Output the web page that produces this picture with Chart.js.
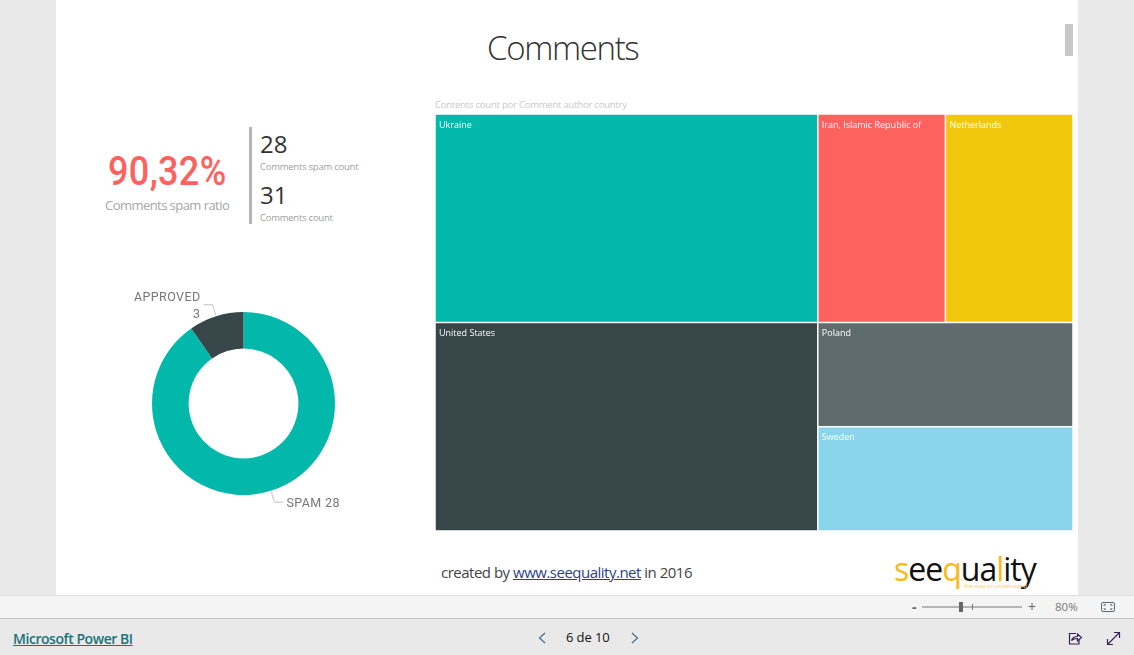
<!DOCTYPE html>
<html>
<head>
<meta charset="utf-8">
<title>Comments</title>
<script src="https://cdn.jsdelivr.net/npm/chart.js@4"></script>
<style>
  html, body { margin: 0; padding: 0; width: 1134px; height: 655px; overflow: hidden; background: #e9e9e9; font-family: "Open Sans", sans-serif; }
  #page { position: absolute; left: 56px; top: 0; width: 1022px; height: 595px; background: #fff; }
  .t { position: absolute; white-space: nowrap; line-height: 1; }
  canvas { position: absolute; }
  #thumb { position: absolute; left: 1065px; top: 24px; width: 8px; height: 32px; background: #c8c8c8; }
  #strip { position: absolute; left: 0; top: 595px; width: 1134px; height: 22px; background: #f4f4f4; border-top: 1px solid #e0e0e0; border-bottom: 1px solid #c6c6c6; }
  #kpiline { position: absolute; left: 249px; top: 127px; width: 3px; height: 97px; background: #b4b4b4; }
  svg { position: absolute; }
</style>
</head>
<body>
<div id="page"></div>
<div id="thumb"></div>

<div class="t" style="left:487px;top:31px;font-size:33px;font-weight:300;color:#333;letter-spacing:-1.35px">Comments</div>

<div class="t" style="left:108px;top:152px;font-family:Roboto;font-size:40px;font-weight:500;color:#fd625e;transform:scaleX(.9);transform-origin:left top;letter-spacing:.4px">90,32%</div>
<div class="t" style="left:105px;top:199px;font-size:13px;color:#a6a6a6;letter-spacing:-.55px">Comments spam ratio</div>
<div id="kpiline"></div>
<div class="t" style="left:260px;top:132px;font-size:24px;color:#333">28</div>
<div class="t" style="left:260px;top:162px;font-size:9.5px;color:#a0a0a0;letter-spacing:-.25px">Comments spam count</div>
<div class="t" style="left:260px;top:183px;font-size:24px;color:#333">31</div>
<div class="t" style="left:260px;top:213px;font-size:9.5px;color:#a0a0a0;letter-spacing:-.25px">Comments count</div>

<canvas id="donut" width="261" height="251" style="left:113px;top:278px"></canvas>

<div class="t" style="left:435px;top:100px;font-size:9.5px;color:#c8c8c8;letter-spacing:-.22px">Contents count por Comment author country</div>
<canvas id="tree" width="638" height="417" style="left:435px;top:114px"></canvas>

<div class="t" style="left:441px;top:565px;font-size:15px;color:#444;letter-spacing:-.5px">created by <span style="color:#2b3f8c;text-decoration:underline">www.seequality.net</span> in 2016</div>

<div class="t" style="left:894px;top:553px;font-size:32px;color:#111;letter-spacing:-1px"><span style="color:#fdb913">s</span>ee<span style="color:#fdb913">q</span>ua<span style="color:#fdb913">l</span>ity</div>
<div class="t" style="left:964px;top:583px;font-size:6px;color:#fdc94a">the way to understand</div>

<div id="strip"></div>
<div class="t" style="left:912px;top:600px;font-size:14px;color:#666;font-weight:700">-</div>
<svg style="left:920px;top:600px" width="105" height="14">
  <line x1="2" y1="7" x2="102" y2="7" stroke="#777"/>
  <rect x="39" y="2" width="4" height="10" fill="#666"/>
  <line x1="52.5" y1="4" x2="52.5" y2="10" stroke="#777"/>
</svg>
<div class="t" style="left:1028px;top:600px;font-size:14px;color:#666">+</div>
<div class="t" style="left:1055px;top:601px;font-size:11.5px;color:#777">80%</div>
<svg style="left:1100px;top:601px" width="16" height="12" fill="none" stroke="#5a6a70">
  <rect x="1.5" y="1.5" width="13" height="9" rx="1.5"/>
  <path d="M4 5V3.8H6M12 5V3.8H10M4 7V8.2H6M12 7V8.2H10"/>
</svg>

<div class="t" style="left:13px;top:632px;font-size:14px;color:#19747c;text-decoration:underline;font-weight:600;letter-spacing:-.45px">Microsoft Power BI</div>
<svg style="left:536px;top:631px" width="12" height="14" fill="none" stroke="#3f6f8c" stroke-width="1.2"><path d="M9 2L3.5 7L9 12"/></svg>
<div class="t" style="left:566px;top:631px;font-size:13px;color:#111;font-weight:500;letter-spacing:-.1px">6 de 10</div>
<svg style="left:629px;top:631px" width="12" height="14" fill="none" stroke="#3f6f8c" stroke-width="1.2"><path d="M3 2L8.5 7L3 12"/></svg>
<svg style="left:1067px;top:631px" width="16" height="15" fill="none" stroke="#3a1f57" stroke-width="1.2">
  <path d="M9 2.5H2.5V13H12V9"/>
  <path d="M4.5 9.5C5.5 6.5 8 5.5 10.5 5.5V3L14.5 6.5L10.5 10V7.5C8 7.5 6 8 4.5 9.5Z"/>
</svg>
<svg style="left:1106px;top:631px" width="15" height="15" fill="none" stroke="#3a1f57" stroke-width="1.2">
  <path d="M1.5 13.5L13.5 1.5M8 1.5H13.5V7M1.5 8V13.5H7"/>
</svg>

<script>
// donut
const statusLabels = ['SPAM', 'APPROVED'];
const statusValues = [28, 3];
const statusColors = ['#01b8aa', '#374649'];

// treemap
const countries = ['Ukraine', 'United States', 'Iran, Islamic Republic of', 'Netherlands', 'Poland', 'Sweden'];
const countryCounts = [3, 3, 1, 1, 1, 1];
const countryColors = ['#01b8aa', '#374649', '#fd625e', '#f2c80f', '#5f6b6d', '#8ad4eb'];
// how the cells nest: row = side by side, col = stacked, numbers index the arrays above
const cellTree = { row: [{ col: [0, 1] }, { col: [{ row: [2, 3] }, { col: [4, 5] }] }] };

const labelFont = '12.5px Roboto';

// leader lines and labels of the donut
const donutLabels = {
  id: 'donutLabels',
  afterDatasetsDraw(chart) {
    const c = chart.ctx;
    chart.getDatasetMeta(0).data.forEach((arc, i) => {
      const p = arc.getProps(['x', 'y', 'startAngle', 'endAngle', 'outerRadius'], true);
      const a = (p.startAngle + p.endAngle) / 2;
      const left = Math.cos(a) < 0;
      const px = r => p.x + Math.cos(a) * r;
      const py = r => p.y + Math.sin(a) * r;
      const elbowX = px(p.outerRadius + 12);
      const elbowY = py(p.outerRadius + 12);
      const endX = elbowX + (left ? -9 : 9);
      c.save();
      c.strokeStyle = '#c4c4c4';
      c.beginPath();
      c.moveTo(px(p.outerRadius + 1), py(p.outerRadius + 1));
      c.lineTo(elbowX, elbowY);
      c.lineTo(endX, elbowY);
      c.stroke();
      c.fillStyle = '#777';
      c.font = labelFont;
      c.letterSpacing = '0.4px';
      c.textBaseline = 'middle';
      if (left) {
        c.textAlign = 'right';
        c.fillText(statusLabels[i], endX - 3, elbowY - 7);
        c.fillText(statusValues[i], endX - 3, elbowY + 10);
      } else {
        c.textAlign = 'left';
        c.fillText(statusLabels[i] + ' ' + statusValues[i], endX + 3, elbowY + 2);
      }
      c.restore();
    });
  }
};

new Chart(document.getElementById('donut'), {
  type: 'doughnut',
  data: {
    labels: statusLabels,
    datasets: [{ data: statusValues, backgroundColor: statusColors, borderWidth: 0 }]
  },
  options: {
    responsive: false,
    animation: false,
    radius: 91.5,
    cutout: '60%',
    plugins: { legend: { display: false }, tooltip: { enabled: false } }
  },
  plugins: [donutLabels]
});

function weight(node) {
  if (typeof node === 'number') return countryCounts[node];
  return (node.row || node.col).reduce((s, n) => s + weight(n), 0);
}

// walks cellTree and gives every cell its share of the box, in count units
function place(node, x0, x1, y0, y1, out) {
  if (typeof node === 'number') {
    out[node] = { x0, x1, y0, y1 };
    return out;
  }
  const total = weight(node);
  let done = 0;
  (node.row || node.col).forEach(n => {
    const a = done / total;
    const b = (done + weight(n)) / total;
    if (node.row) place(n, x0 + (x1 - x0) * a, x0 + (x1 - x0) * b, y0, y1, out);
    else place(n, x0, x1, y0 + (y1 - y0) * a, y0 + (y1 - y0) * b, out);
    done += weight(n);
  });
  return out;
}

// treemap cells as Chart.js bar elements placed through the linear scales
class TreemapController extends Chart.DatasetController {
  update(mode) {
    this.updateElements(this._cachedMeta.data, 0, this._cachedMeta.data.length, mode);
  }
  updateElements(rects, start, count, mode) {
    const xs = this._cachedMeta.xScale;
    const ys = this._cachedMeta.yScale;
    const cells = this.getDataset().data;
    for (let i = start; i < start + count; i++) {
      const d = cells[i];
      const left = xs.getPixelForValue(d.x0);
      const right = xs.getPixelForValue(d.x1);
      const top = ys.getPixelForValue(d.y0);
      const bottom = ys.getPixelForValue(d.y1);
      this.updateElement(rects[i], i, {
        x: (left + right) / 2,
        y: top,
        base: bottom,
        width: right - left,
        height: bottom - top,
        horizontal: false,
        borderSkipped: {},
        enableBorderRadius: false,
        inflateAmount: 0,
        options: this.resolveDataElementOptions(i, mode)
      }, mode);
    }
  }
  getMinMax() {
    return { min: 0, max: 1 };
  }
  draw() {
    const c = this.chart.ctx;
    this._cachedMeta.data.forEach(r => r.draw(c, this.chart.chartArea));
  }
}
TreemapController.id = 'treemap';
TreemapController.defaults = { dataElementType: 'bar', parsing: false };
Chart.register(TreemapController);

const cellLabels = {
  id: 'cellLabels',
  afterDatasetsDraw(chart) {
    const c = chart.ctx;
    c.save();
    c.fillStyle = '#fff';
    c.font = '9px "Open Sans"';
    c.textBaseline = 'middle';
    chart.getDatasetMeta(0).data.forEach((r, i) => {
      c.fillText(countries[i], r.x - r.width / 2 + 4, r.y + 11);
    });
    c.restore();
  }
};

const totalCount = weight(cellTree);
const cells = place(cellTree, 0, totalCount, 0, totalCount, []);

new Chart(document.getElementById('tree'), {
  type: 'treemap',
  data: {
    labels: countries,
    datasets: [{
      data: cells,
      backgroundColor: countryColors,
      borderColor: '#fff',
      borderWidth: 0.75
    }]
  },
  options: {
    responsive: false,
    animation: false,
    scales: {
      x: { type: 'linear', display: false, min: 0, max: totalCount },
      y: { type: 'linear', display: false, min: 0, max: totalCount, reverse: true }
    },
    plugins: { legend: { display: false }, tooltip: { enabled: false } }
  },
  plugins: [cellLabels]
});
</script>
</body>
</html>
